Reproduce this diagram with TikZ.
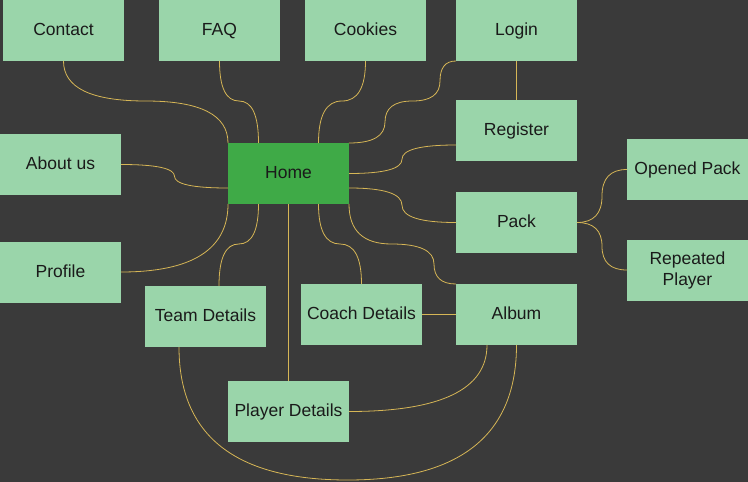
\documentclass[tikz,border=0pt]{standalone}
\usepackage{fontspec}
\setmainfont{Liberation Sans}
\usepackage{tikz}
\usetikzlibrary{calc,positioning}
\definecolor{canvas}{HTML}{3A3A3A}
\definecolor{pagefill}{HTML}{9AD5AA}
\definecolor{homefill}{HTML}{3FAA47}
\definecolor{linkcol}{HTML}{D6B656}
\definecolor{labeltext}{HTML}{1A1A1A}
\tikzstyle{page}=[rectangle,fill=pagefill,minimum width=121pt,minimum height=61pt,inner sep=2pt,outer sep=0pt,text=labeltext,text height=14.6pt,text depth=3.7pt,font=\fontsize{17.5}{21}\selectfont]
\tikzstyle{home page}=[page, fill=homefill]
\tikzstyle{link}=[draw=linkcol, line width=0.8pt]

\begin{document}
\begin{tikzpicture}[x=1pt,y=1pt]
  \useasboundingbox (0,0) rectangle (748,-482);
  \fill[canvas] (0,0) rectangle (748,-482);

  % Top row
  \node[page] (contact) at (63.5,-30.5) {Contact};
  \node[page, right = 35pt of contact] (faq) {FAQ};
  \node[page, right = 25pt of faq] (cookies) {Cookies};
  \node[page, right = 30pt of cookies] (login) {Login};

  % Right column
  \node[page, below = 39pt of login] (register) {Register};
  \node[page, below = 31pt of register] (pack) {Pack};
  \node[page, below = 31pt of pack] (album) {Album};
  \node[page, left = 34pt of album] (coach) {Coach Details};
  \node[page] (opened) at (687.5,-169.5) {Opened Pack};
  \node[page, align=center, text height=, text depth=] (repeated) at (687.5,-270) {Repeated\\Player};

  % Home and the rest
  \node[home page] (home) at (288.5,-173.5) {Home};
  \node[page] (about) at (60.5,-164.5) {About us};
  \node[page] (profile) at (60.5,-272) {Profile};
  \node[page] (team) at (205.5,-316.5) {Team Details};
  \node[page, below = 177pt of home] (player) {Player Details};

  % Links above Home

  \draw[link] (contact.south) .. controls +(0,-26.7) and +(-54.8,0) .. (145.75,-101)
    .. controls +(54.8,0) and +(0,28) .. (home.north west);
  \draw[link] (faq.south) .. controls +(0,-26.7) and +(-13,0) .. (239,-101)
    .. controls +(13,0) and +(0,28) .. ($(home.north)+(-30,0)$);
  \draw[link] (cookies.south) .. controls +(0,-26.7) and +(15.7,0) .. (342,-101)
    .. controls +(-15.7,0) and +(0,28) .. ($(home.north)+(30,0)$);
  \draw[link] (home.north east) .. controls +(24,0) and +(0,-14) .. (385,-122)
    .. controls +(0,14) and +(-18.3,0) .. (412.5,-101)
    .. controls +(18.3,0) and +(0,-13.3) .. (440,-81)
    .. controls +(0,13.3) and +(-10.7,0) .. (login.south west);
  \draw[link] (login.south) -- (register.north);

  % Links to the right

  \draw[link] ($(register.west)+(0,-14.5)$) .. controls +(-36,0) and +(0,9.5) .. (402,-159.25)
    .. controls +(0,-9.5) and +(35.3,0) .. (home.east);
  \draw[link] ($(home.east)+(0,-14.5)$) .. controls +(35.3,0) and +(0,11.5) .. (402,-205.25)
    .. controls +(0,-11.5) and +(-36,0) .. (pack.west);
  \draw[link] (home.south east) .. controls +(0,-26.7) and +(-28.3,0) .. (391.5,-244)
    .. controls +(28.3,0) and +(0,13.3) .. (434,-264)
    .. controls +(0,-13.3) and +(-14.7,0) .. (album.north west);
  \draw[link] (pack.east) .. controls +(16.7,0) and +(0,-17.7) .. (602,-196)
    .. controls +(0,17.7) and +(-16.7,0) .. (opened.west);
  \draw[link] (pack.east) .. controls +(16.7,0) and +(0,15.8) .. (602,-246.25)
    .. controls +(0,-15.8) and +(-16.7,0) .. (repeated.west);

  % Links to the left and below

  \draw[link] (about.east) .. controls +(35.7,0) and +(0,7.8) .. (174.5,-176.25)
    .. controls +(0,-7.8) and +(-35.7,0) .. ($(home.west)+(0,-14.5)$);
  \draw[link] (profile.east) .. controls +(71.3,0) and +(0,-45.3) .. (home.south west);
  \draw[link] ($(home.south)+(-30,0)$) .. controls +(0,-26.7) and +(13.2,0) .. (238.75,-244)
    .. controls +(-13.2,0) and +(0,28) .. ($(team.north)+(13.5,0)$);
  \draw[link] (home.south) -- (player.north);
  \draw[link] ($(home.south)+(30,0)$) .. controls +(0,-26.7) and +(-14.3,0) .. (340,-244)
    .. controls +(14.3,0) and +(0,26.7) .. (coach.north);
  \draw[link] (coach.east) -- (album.west);
  \draw[link] ($(album.south)+(-29.5,0)$) .. controls +(0,-44.3) and +(92,0) .. (player.east);
  \draw[link] (album.south) .. controls +(0,-90) and +(112.5,0) .. (347.75,-480)
    .. controls +(-112.5,0) and +(0,-88.7) .. ($(team.south)+(-26.5,0)$);
\end{tikzpicture}
\end{document}
